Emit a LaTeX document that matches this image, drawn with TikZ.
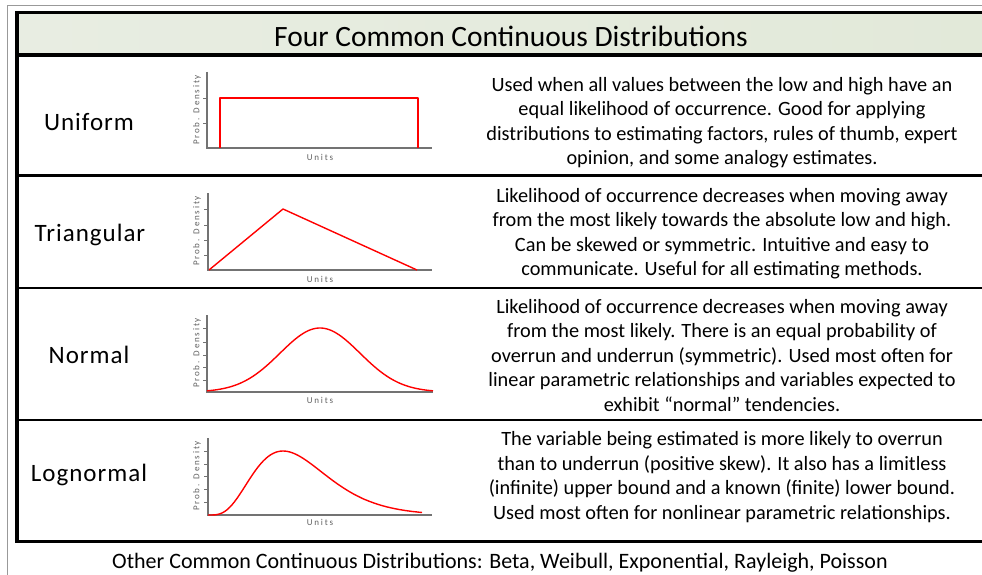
\documentclass[tikz,border=0pt]{standalone}
\usepackage{fontspec}
\setmainfont{Carlito}
\newfontfamily\axisfont[LetterSpace=20]{Carlito}
\newfontfamily\namefont[LetterSpace=4]{Carlito}
\definecolor{hdrleft}{RGB}{232,237,226}
\definecolor{hdrmid}{RGB}{204,217,186}
\definecolor{hdrright}{RGB}{226,233,217}

\begin{document}
\begin{tikzpicture}[
  x=1pt, y=-1pt,
  frame/.style={line width=3.5pt},
  rowline/.style={line width=2.3pt},
  axis/.style={draw=black!55, line width=1.8pt},
  tick/.style={draw=black!55, line width=0.8pt},
  pdf/.style={draw=red, line width=1.4pt, line join=round},
  title/.style={font=\fontsize{29.5}{34}\selectfont},
  distname/.style={font=\namefont\fontsize{25}{30}\selectfont},
  desc/.style={align=center, font=\fontsize{20.3}{24.5}\selectfont},
  axlabel/.style={text=black!62, font=\axisfont\fontsize{9}{10}\selectfont, inner sep=0pt}
]
\clip (0,0) rectangle (982,575);
\fill[white] (0,0) rectangle (982,575);

% outer frame and table
\draw[black!40, line width=0.8pt] (7,600) -- (7,5) -- (995,5);
\shade[left color=hdrleft, middle color=hdrmid, right color=hdrright] (17,12.5) rectangle (995,55);
\draw[rowline] (17,175.5) -- (995,175.5);
\draw[rowline] (17,288) -- (995,288);
\draw[rowline] (17,420) -- (995,420);
\draw[frame] (17,55) -- (995,55);
\draw[frame] (995,12.5) -- (17,12.5) -- (17,541.5) -- (995,541.5);

\node[title] (title) at (511,36) {Four Common Continuous Distributions};

% Uniform
\node[distname] (uniform) at (89,122) {Uniform};
\draw[axis] (207,72) -- (207,148) -- (432,148);
\draw[tick] (203,98) -- (207,98) (203,123) -- (207,123);
\draw[pdf] (220,148) -- (220,98) -- (418,98) -- (418,148);
\node[axlabel] (unitsU) at (320,157) {Units};
\node[axlabel, rotate=90] (probU) at (197,110) {Prob. Density};
\node[desc] (uniformtxt) at (722,122.5)
  {Used when all values between the low and high have an\\equal likelihood of occurrence.  Good for applying\\distributions to estimating factors, rules of thumb, expert\\opinion, and some analogy estimates.};

% Triangular
\node[distname] (triangular) at (90,235) {Triangular};
\draw[axis] (208,193) -- (208,270) -- (432,270);
\draw[tick] (204,209) -- (208,209) (204,225) -- (208,225) (204,240) -- (208,240) (204,255) -- (208,255);
\draw[pdf] (209,270) -- (283,209) -- (417,270);
\node[axlabel] (unitsT) at (320,279) {Units};
\node[axlabel, rotate=90] (probT) at (197,231) {Prob. Density};
\node[desc] (triangulartxt) at (722,233.5)
  {Likelihood of occurrence decreases when moving away\\from the most likely towards the absolute low and high.\\Can be skewed or symmetric.  Intuitive and easy to\\communicate.  Useful for all estimating methods.};

% Normal
\node[distname] (normal) at (89,355) {Normal};
\draw[axis] (207,315) -- (207,392) -- (433,392);
\draw[tick] (203,328) -- (207,328) (203,342) -- (207,342) (203,355) -- (207,355) (203,367) -- (207,367) (203,380) -- (207,380);
\draw[pdf] plot[domain=207:433, samples=90, smooth] (\x, {392-64*exp(-0.5*((\x-320)/40)^2)});
\node[axlabel] (unitsN) at (320,400) {Units};
\node[axlabel, rotate=90] (probN) at (197,353) {Prob. Density};
\node[desc] (normaltxt) at (722,355.5)
  {Likelihood of occurrence decreases when moving away\\from the most likely.  There is an equal probability of\\overrun and underrun (symmetric).  Used most often for\\linear parametric relationships and variables expected to\\exhibit “normal” tendencies.};

% Lognormal
\node[distname] (lognormal) at (89,475) {Lognormal};
\draw[axis] (208,438) -- (208,515) -- (432,515);
\draw[tick] (204,451) -- (208,451) (204,464) -- (208,464) (204,476) -- (208,476) (204,489) -- (208,489) (204,502) -- (208,502);
\draw[pdf] plot[domain=0:214, samples=90, smooth] ({208+\x}, {515-64*(\x/75)*(\x/75)*(\x/75)*(\x/75)*exp(-(\x-75)/18.75)});
\node[axlabel] (unitsL) at (320,522) {Units};
\node[axlabel, rotate=90] (probL) at (197,476) {Prob. Density};
\node[desc] (lognormaltxt) at (722,477)
  {The variable being estimated is more likely to overrun\\than to underrun (positive skew).  It also has a limitless\\(infinite) upper bound and a known (finite) lower bound.\\Used most often for nonlinear parametric relationships.};

\node[desc, font=\fontsize{22}{26}\selectfont] (others) at (500,563)
  {Other Common Continuous Distributions:  Beta, Weibull, Exponential, Rayleigh, Poisson};

\end{tikzpicture}
\end{document}
